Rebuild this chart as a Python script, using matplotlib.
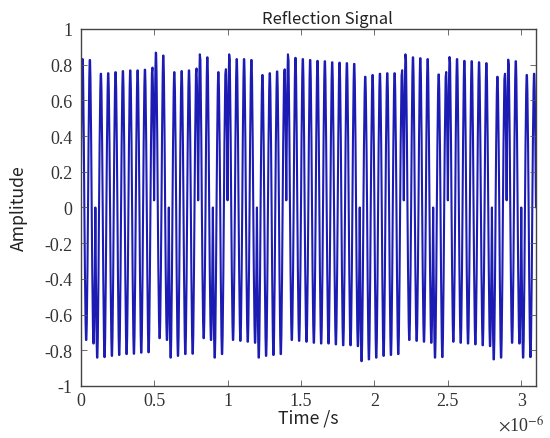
import numpy as np
import matplotlib
matplotlib.use('Agg')
import matplotlib.pyplot as plt
from matplotlib.path import Path
from matplotlib.patches import PathPatch
from matplotlib.ticker import FuncFormatter

################## data ##################
# chip sign of each 0.1 us chip (31 chips, 2 carrier cycles each)
chipSign = [1, -1, -1, -1, -1, 1, -1, -1, 1, -1, 1, 1, -1, -1, 1, 1,
            1, 1, 1, -1, -1, -1, 1, 1, -1, 1, 1, 1, -1, 1, -1]
# the two positive peaks in each chip
peakVals = [[0.84, 0.835], [0.757, 0.76], [0.766, 0.772], [0.776, 0.776],
            [0.78, 0.785], [0.87, 0.86], [0.766, 0.772], [0.776, 0.78],
            [0.86, 0.85], [0.766, 0.776], [0.86, 0.84], [0.84, 0.835],
            [0.75, 0.76], [0.77, 0.775], [0.86, 0.847], [0.84, 0.835],
            [0.83, 0.828], [0.822, 0.82], [0.817, 0.813], [0.74, 0.75],
            [0.757, 0.76], [0.76, 0.77], [0.86, 0.85], [0.845, 0.84],
            [0.753, 0.76], [0.845, 0.84], [0.83, 0.828], [0.822, 0.817],
            [0.74, 0.75], [0.83, 0.828], [0.75, 0.757]]
# the two negative troughs in each chip
troughVals = [[-0.75, -0.77], [-0.85, -0.847], [-0.84, -0.835], [-0.83, -0.828],
              [-0.822, -0.82], [-0.74, -0.75], [-0.85, -0.84], [-0.83, -0.828],
              [-0.74, -0.75], [-0.85, -0.83], [-0.75, -0.755], [-0.76, -0.766],
              [-0.85, -0.84], [-0.835, -0.83], [-0.75, -0.755], [-0.76, -0.766],
              [-0.77, -0.77], [-0.775, -0.78], [-0.78, -0.785], [-0.87, -0.86],
              [-0.85, -0.84], [-0.835, -0.83], [-0.75, -0.755], [-0.76, -0.766],
              [-0.85, -0.847], [-0.76, -0.766], [-0.77, -0.775], [-0.78, -0.785],
              [-0.86, -0.85], [-0.766, -0.77], [-0.85, -0.847]]
# level the trace turns at when the phase flips (spike tips)
flipDownLevel = 0.0    # +1 -> -1 chip, spike from below
flipUpLevel = 0.04     # -1 -> +1 chip, spike from above

chipLen = 0.1e-6
halfCycle = chipLen / 4

################## build the trace (one bezier lobe per half cycle) ##################
verts = []
codes = []
for k, s in enumerate(chipSign):
    t0 = k * chipLen
    if k > 0 and chipSign[k - 1] != s:
        start = flipDownLevel if s < 0 else flipUpLevel
    else:
        start = 0.0
    if s > 0:
        ext = [peakVals[k][0], troughVals[k][0], peakVals[k][1], troughVals[k][1]]
    else:
        ext = [troughVals[k][0], peakVals[k][0], troughVals[k][1], peakVals[k][1]]
    for j in range(4):
        a = t0 + j * halfCycle
        b = a + halfCycle
        y0 = start if j == 0 else 0.0
        if not verts:
            verts.append((a, y0))
            codes.append(Path.MOVETO)
        else:
            verts[-1] = (a, y0)
        h = ext[j] * 4 / 3
        c = halfCycle * 0.4244
        verts += [(a + c, h), (b - c, h), (b, 0.0)]
        codes += [Path.CURVE4] * 3

################## plot ##################
fig = plt.figure(figsize=(5.5, 4.39), dpi=100)
ax = fig.add_axes([0.1467, 0.1185, 0.8278, 0.8132])
ax.add_patch(PathPatch(Path(verts, codes), facecolor='none', edgecolor='#1c1cb4',
                       lw=1.5, capstyle='round', joinstyle='round'))

ax.set_xlim(0, 3.1e-6)
ax.set_ylim(-1, 1)
ax.set_xticks(np.arange(0, 3.01e-6, 0.5e-6))
ax.set_yticks(np.arange(-1, 1.01, 0.2))


def fmt(v, scale):
    v = round(v * scale, 3)
    return '0' if abs(v) < 1e-9 else '%g' % v


ax.xaxis.set_major_formatter(FuncFormatter(lambda x, p: fmt(x, 1e6)))
ax.yaxis.set_major_formatter(FuncFormatter(lambda y, p: fmt(y, 1)))
ax.tick_params(direction='in', top=True, right=True, length=4, width=0.6,
               color='#555555', labelsize=13)
ax.tick_params(axis='y', pad=6)
ax.tick_params(axis='x', pad=4)
for lab in ax.get_xticklabels() + ax.get_yticklabels():
    lab.set_fontfamily('Liberation Serif')
    lab.set_color('#333333')
for sp_ in ax.spines.values():
    sp_.set_color('#444444')
    sp_.set_linewidth(1.0)

sansFont = ['Noto Sans CJK SC', 'DejaVu Sans']
ax.set_title('Reflection Signal', fontsize=12, family=sansFont, pad=4, color='#222222',
             x=0.541)
ax.set_xlabel('Time /s', fontsize=12.7, family=sansFont, color='#222222')
ax.set_ylabel('Amplitude', fontsize=12.7, family=sansFont, color='#222222')
ax.xaxis.set_label_coords(0.5, -0.063)
ax.yaxis.set_label_coords(-0.115, 0.5)

plt.rcParams['mathtext.fontset'] = 'stix'
fig.text(0.905, 0.018, r'$\times$10$^{-6}$', fontsize=13, family='Liberation Serif',
         color='#333333')

fig.savefig('out.png', dpi=100)
